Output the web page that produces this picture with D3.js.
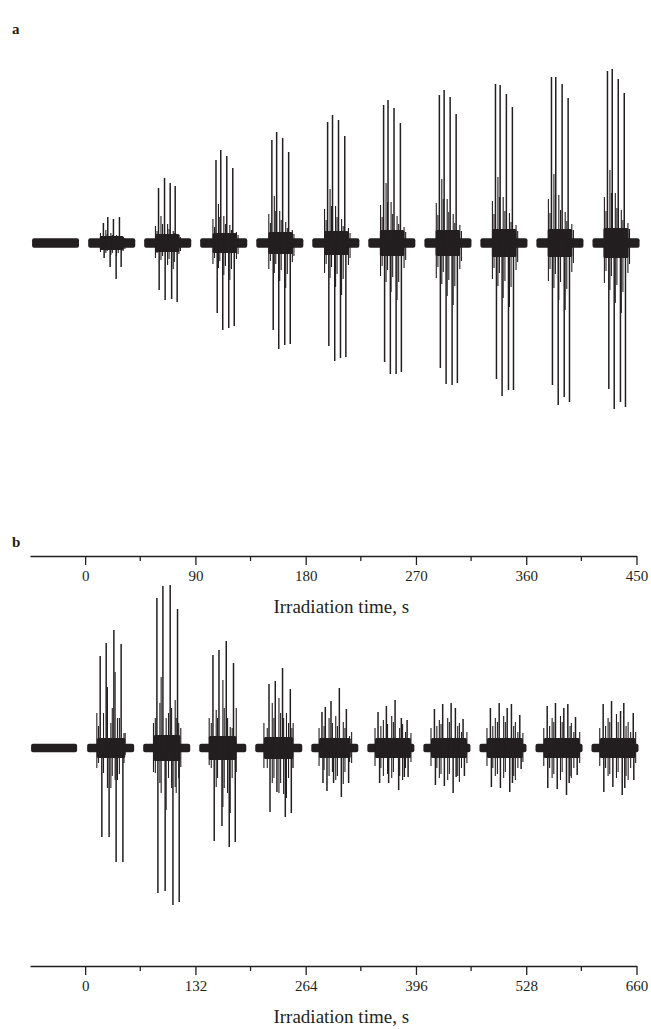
<!DOCTYPE html>
<html><head><meta charset="utf-8">
<script src="https://cdn.jsdelivr.net/npm/d3@7"></script>
<style>body{margin:0;background:#fff}</style>
</head><body>
<svg id="chart" width="651" height="1029"></svg>
<script>
// ---------------- Panel a data (time in s, signal in arbitrary units) ----------------
const aTicks = [0, 90, 180, 270, 360, 450];
const aMinor = [45, 135, 225, 315, 405];
const aSegStart = [-43.3, 2.5, 48.2, 93.9, 139.7, 185.4, 231.1, 276.9, 322.6, 368.3, 414.1];
const aSegEnd   = [-5.0, 40.9, 86.6, 132.3, 178.1, 223.8, 269.5, 315.3, 361.0, 406.7, 452.5];
const aNoise = 0.48;
// main spikes per burst: [time, value]
const aUp = [
  [],
  [[14.9,2.0],[18.5,2.6],[23.1,2.4],[28.0,2.6]],
  [[59.9,5.5],[64.8,6.5],[69.4,6.0],[73.5,5.7]],
  [[106.8,8.3],[110.7,9.3],[115.6,8.7],[120.5,7.5]],
  [[152.4,10.3],[156.3,11.1],[161.2,10.5],[166.1,9.1]],
  [[197.9,12.1],[201.9,12.8],[206.8,12.3],[211.9,10.7]],
  [[243.6,13.8],[247.2,14.3],[252.1,13.5],[257.3,12.0]],
  [[289.1,14.8],[293.0,15.3],[297.9,14.6],[302.8,12.9]],
  [[334.9,15.9],[338.7,15.8],[343.8,14.9],[348.7,13.6]],
  [[380.6,16.6],[384.1,16.6],[389.3,15.9],[394.2,14.5]],
  [[426.3,17.2],[430.2,17.4],[435.1,16.4],[440.0,15.0]]
];
const aDown = [
  [],
  [[15.5,-1.5],[20.4,-2.4],[25.3,-3.6],[29.4,-2.4]],
  [[60.4,-4.7],[65.3,-5.7],[70.6,-5.6],[75.1,-5.9]],
  [[107.8,-7.0],[112.3,-8.7],[117.2,-8.5],[121.7,-8.3]],
  [[153.5,-8.7],[158.0,-10.6],[162.9,-10.2],[167.4,-10.1]],
  [[198.9,-10.3],[203.7,-11.8],[208.4,-11.5],[212.8,-11.4]],
  [[244.4,-11.9],[249.1,-13.1],[253.8,-13.1],[258.1,-12.9]],
  [[289.9,-12.5],[294.6,-14.1],[299.5,-14.2],[303.8,-14.0]],
  [[335.7,-13.6],[340.3,-15.3],[345.5,-14.7],[349.6,-14.7]],
  [[381.4,-14.2],[386.1,-16.2],[391.0,-15.4],[395.3,-15.9]],
  [[427.4,-14.6],[431.8,-16.6],[436.9,-15.9],[441.0,-16.4]]
];
// smaller spikes inside each burst: [time, up, down]
const aInner = [
  [],
  [[12.5,1.0,-0.9],[16.9,1.3,-1.0],[21.0,1.0,-1.2],[25.6,0.8,-1.3],[31.0,0.6,-0.8],
   [13.7,0.7,-0.7],[18.0,0.9,-0.8],[22.2,0.8,-1.0],[27.0,0.7,-1.0],[32.5,0.5,-0.6]],
  [[57.4,1.7,-1.5],[61.9,2.7,-1.7],[67.3,1.9,-2.2],[71.9,1.2,-2.6],[76.5,0.8,-1.1],
   [58.7,1.2,-1.0],[63.2,1.9,-1.3],[68.5,1.4,-1.6],[72.8,1.0,-1.9],[77.8,0.6,-0.8]],
  [[104.3,2.4,-2.1],[108.8,3.9,-2.5],[113.2,2.7,-3.2],[118.1,1.8,-3.7],[123.5,1.1,-1.6],
   [105.6,1.6,-1.5],[109.9,2.6,-1.8],[114.5,1.9,-2.3],[119.4,1.3,-2.6],[124.8,0.8,-1.1]],
  [[149.9,2.9,-2.6],[154.4,4.7,-3.0],[158.8,3.2,-3.8],[163.7,2.1,-4.5],[169.1,1.3,-1.9],
   [151.2,2.0,-1.8],[155.6,3.2,-2.1],[160.0,2.3,-2.7],[165.0,1.5,-3.1],[170.4,0.9,-1.3]],
  [[195.4,3.4,-3.0],[199.9,5.4,-3.5],[204.4,3.7,-4.4],[209.3,2.4,-5.2],[214.9,1.5,-2.2],
   [196.7,2.3,-2.1],[201.1,3.7,-2.4],[205.6,2.6,-3.1],[210.6,1.7,-3.6],[216.2,1.0,-1.5]],
  [[241.1,3.8,-3.3],[245.6,6.0,-3.9],[249.7,4.1,-4.9],[254.6,2.7,-5.7],[260.3,1.6,-2.5],
   [242.4,2.6,-2.3],[246.8,4.1,-2.7],[251.0,2.9,-3.4],[255.9,1.9,-3.9],[261.6,1.1,-1.7]],
  [[286.6,4.0,-3.5],[291.1,6.4,-4.1],[295.5,4.4,-5.3],[300.4,2.9,-6.2],[305.8,1.8,-2.6],
   [287.9,2.8,-2.4],[292.3,4.4,-2.9],[296.8,3.1,-3.7],[301.7,2.0,-4.3],[307.1,1.2,-1.8]],
  [[332.4,4.2,-3.6],[336.9,6.6,-4.3],[341.2,4.6,-5.5],[346.3,3.0,-6.4],[351.7,1.8,-2.7],
   [333.7,2.9,-2.5],[338.1,4.6,-3.0],[342.6,3.2,-3.8],[347.6,2.1,-4.4],[353.0,1.2,-1.9]],
  [[378.1,4.4,-3.8],[382.6,6.9,-4.5],[386.6,4.8,-5.7],[391.8,3.1,-6.7],[397.2,1.9,-2.9],
   [379.4,3.0,-2.6],[383.8,4.8,-3.1],[388.0,3.3,-3.9],[393.1,2.2,-4.6],[398.5,1.3,-2.0]],
  [[423.8,4.6,-4.0],[428.3,7.3,-4.7],[432.7,5.0,-6.0],[437.6,3.3,-7.0],[443.0,2.0,-3.0],
   [425.1,3.2,-2.8],[429.5,5.0,-3.3],[434.0,3.5,-4.2],[438.9,2.3,-4.9],[444.3,1.4,-2.1]]
];
// dense core of each burst: [start, end, half-height]
const aCore = [
  null,
  [12.0, 31.5, 0.7],[57.0, 77.0, 0.9],[104.0, 124.0, 1.0],[149.5, 169.5, 1.1],[195.0, 215.0, 1.2],
  [240.5, 260.5, 1.3],[286.0, 306.0, 1.3],[332.0, 352.0, 1.4],[377.5, 397.5, 1.4],[423.0, 443.5, 1.5]
];

// ---------------- Panel b data ----------------
const bTicks = [0, 132, 264, 396, 528, 660];
const bMinor = [66, 198, 330, 462, 594];
const bSegStart = [-64.7, 2.4, 69.5, 136.6, 203.6, 270.7, 337.8, 404.9, 472.0, 539.1, 606.1];
const bSegEnd   = [-9.6, 58.7, 125.8, 192.9, 259.9, 327.0, 394.1, 461.2, 528.3, 595.4, 662.4];
const bNoise = 0.42;
const bUp = [
  [],
  [[18.0,9.2],[25.2,10.5],[34.4,11.8],[43.1,10.4]],
  [[85.9,15.0],[93.1,16.2],[101.8,16.3],[110.6,13.9]],
  [[153.0,9.3],[160.2,9.8],[168.9,10.7],[177.6,8.5]],
  [[220.1,6.4],[227.6,6.7],[236.3,8.0],[245.6,5.9]],
  [[283.5,3.6],[287.5,4.1],[294.3,4.7],[304.3,6.0],[312.7,3.9]],
  [[350.6,3.6],[360.6,4.2],[371.0,4.8],[378.5,3.0],[385.4,2.8]],
  [[418.1,3.9],[428.0,4.4],[438.1,4.5],[443.2,4.0],[452.4,2.9]],
  [[485.1,4.0],[495.6,4.5],[505.2,4.0],[510.3,4.4],[520.3,3.3]],
  [[553.1,4.2],[563.0,4.5],[573.0,4.0],[577.8,4.4],[587.0,3.1]],
  [[620.1,4.4],[630.1,4.7],[640.9,3.7],[644.8,4.5],[656.1,3.5]]
];
const bDown = [
  [],
  [[20.0,-8.9],[28.7,-8.9],[37.1,-11.4],[45.2,-11.4]],
  [[87.1,-14.5],[95.8,-14.3],[105.1,-15.7],[112.6,-15.4]],
  [[154.5,-9.3],[163.8,-7.8],[172.5,-9.9],[179.7,-9.4]],
  [[221.3,-6.4],[229.6,-4.4],[239.6,-6.9],[246.8,-6.5]],
  [[284.7,-3.5],[289.5,-4.3],[297.4,-3.5],[306.7,-4.9],[315.4,-3.5]],
  [[352.5,-3.5],[363.3,-3.5],[375.3,-4.2],[382.1,-2.9],[386.6,-2.9]],
  [[419.3,-3.7],[430.0,-3.8],[440.5,-4.5],[444.1,-2.9],[454.0,-2.8]],
  [[486.3,-3.9],[497.1,-4.0],[508.3,-4.4],[511.5,-3.5],[521.9,-2.1]],
  [[553.8,-4.0],[565.1,-4.1],[576.2,-4.7],[579.4,-3.5],[589.0,-2.7]],
  [[620.9,-4.4],[631.7,-3.9],[642.9,-4.7],[646.0,-4.0],[656.8,-3.2]]
];
const bInner = [
  [],
  [[14.0,3.5,-2.0],[26.7,6.1,-4.0],[30.8,2.5,-4.0],[35.9,7.6,-3.2],[38.7,3.0,-3.2],[47.9,1.5,-0.7],
   [16.0,2.2,-1.5],[22.0,3.5,-2.5],[32.5,4.0,-2.8],[41.0,3.0,-2.6],[46.5,1.5,-1.5]],
  [[81.8,2.5,-2.4],[91.0,7.1,-4.5],[97.0,3.0,-6.2],[99.8,3.5,-3.0],[107.8,4.8,-3.9],[114.5,2.0,-1.9],
   [84.0,3.0,-2.5],[89.5,4.5,-3.5],[103.5,4.0,-4.0],[109.0,3.0,-4.5],[112.0,2.5,-3.0]],
  [[148.5,3.0,-1.7],[156.9,3.8,-3.9],[164.9,6.8,-5.9],[173.7,2.1,-6.5],[180.9,4.0,-2.4],
   [151.0,2.5,-2.0],[158.5,3.0,-3.0],[166.5,4.0,-4.0],[170.5,3.0,-4.5],[176.0,2.0,-3.0]],
  [[214.0,2.5,-2.0],[224.0,4.5,-3.5],[232.0,5.0,-4.5],[237.6,3.0,-4.6],[241.0,3.5,-5.0],[249.0,2.5,-2.0],
   [218.0,2.0,-2.0],[226.0,3.0,-3.0],[234.0,3.5,-3.5],[243.5,2.5,-3.0],[247.5,2.0,-2.0]],
  [[280.0,2.0,-1.8],[292.0,3.0,-2.8],[300.0,3.2,-3.2],[309.0,2.6,-3.6],[319.0,1.6,-1.5],
   [286.0,2.2,-2.2],[296.0,2.5,-2.4],[302.0,2.2,-2.8],[311.0,2.0,-2.4],[316.5,1.2,-1.4]],
  [[347.0,2.0,-1.8],[357.0,2.8,-2.8],[367.0,3.2,-3.0],[380.0,2.4,-3.2],[390.0,1.5,-1.4],
   [354.0,2.2,-2.0],[362.0,2.4,-2.6],[369.0,2.6,-2.4],[376.5,2.0,-2.8],[383.5,1.6,-2.0]],
  [[414.0,2.0,-1.8],[424.0,2.8,-3.0],[434.0,3.0,-3.2],[448.0,2.5,-3.4],[457.0,1.6,-1.5],
   [421.0,2.2,-2.0],[426.0,2.4,-2.6],[436.0,2.6,-2.6],[446.0,2.2,-2.8],[450.5,1.6,-2.0]],
  [[481.0,2.0,-1.8],[491.0,3.0,-2.8],[501.0,3.2,-3.0],[515.0,2.6,-3.2],[524.0,1.5,-1.4],
   [488.0,2.2,-2.0],[493.5,2.6,-2.6],[503.0,2.6,-2.4],[513.0,2.2,-2.8],[518.0,1.6,-2.0]],
  [[549.0,2.0,-1.8],[559.0,3.0,-3.0],[569.0,3.2,-3.2],[582.0,2.5,-3.0],[592.0,1.6,-1.5],
   [556.0,2.2,-2.0],[561.0,2.6,-2.6],[571.0,2.6,-2.4],[580.5,2.2,-2.8],[585.0,1.6,-2.0]],
  [[616.0,2.0,-1.8],[626.0,3.0,-2.8],[636.0,3.4,-3.0],[650.0,2.6,-3.2],[659.0,1.6,-1.5],
   [623.0,2.2,-2.0],[628.0,2.6,-2.6],[638.0,2.6,-2.4],[647.5,2.2,-2.8],[653.0,1.6,-2.0]]
];
const bCore = [
  null,
  [14.0, 48.0, 1.0],[82.0, 114.0, 1.3],[148.0, 181.0, 1.2],[214.0, 249.0, 1.1],[280.0, 318.0, 1.0],
  [347.0, 390.0, 1.0],[414.0, 457.0, 1.0],[481.0, 524.0, 1.0],[549.0, 592.0, 1.0],[616.0, 659.0, 1.0]
];

const INK = "#231f20";
const SERIF = "'Liberation Serif', 'Times New Roman', serif";
const svg = d3.select("#chart");

function drawPanel(p) {
  const x = d3.scaleLinear().domain(p.xDomain).range([30, 636.5]);
  const y = d3.scaleLinear().domain(p.yDomain).range([p.axisY, p.topY]);
  const g = svg.append("g");

  // baseline noise bands
  g.selectAll("rect.band").data(p.segStart).join("rect")
    .attr("x", d => x(d))
    .attr("width", (d, i) => x(p.segEnd[i]) - x(d))
    .attr("y", y(p.noise))
    .attr("height", y(-p.noise) - y(p.noise))
    .attr("rx", 2)
    .attr("fill", INK);

  // denser core of each burst
  g.selectAll("rect.core").data(p.core.filter(c => c)).join("rect")
    .attr("x", d => x(d[0]))
    .attr("width", d => x(d[1]) - x(d[0]))
    .attr("y", d => y(d[2]))
    .attr("height", d => y(-d[2]) - y(d[2]))
    .attr("rx", 1.5)
    .attr("fill", INK);

  // inner spikes
  g.selectAll("line.inner").data(p.inner.flat()).join("line")
    .attr("x1", d => x(d[0])).attr("x2", d => x(d[0]))
    .attr("y1", d => y(d[1])).attr("y2", d => y(d[2]))
    .attr("stroke", INK).attr("stroke-width", 1.1);

  // main spikes
  g.selectAll("line.main").data(p.up.flat().concat(p.down.flat())).join("line")
    .attr("x1", d => x(d[0])).attr("x2", d => x(d[0]))
    .attr("y1", y(0)).attr("y2", d => y(d[1]))
    .attr("stroke", INK).attr("stroke-width", 1.5);

  // axis
  const ax = g.append("g").attr("transform", `translate(0,${p.axisY})`)
    .call(d3.axisBottom(x).tickValues(p.ticks).tickSize(9).tickSizeOuter(0).tickPadding(5).tickFormat(d3.format("d")));
  ax.select(".domain").attr("stroke", INK).attr("stroke-width", 1.3);
  ax.selectAll(".tick line").attr("stroke", INK).attr("stroke-width", 1.3);
  ax.selectAll(".tick text").attr("fill", INK)
    .style("font-family", SERIF).style("font-size", "15px");
  g.append("g").selectAll("line").data(p.minor).join("line")
    .attr("x1", d => x(d)).attr("x2", d => x(d))
    .attr("y1", p.axisY).attr("y2", p.axisY + 5)
    .attr("stroke", INK).attr("stroke-width", 1.3);

  g.append("text")
    .attr("x", (30 + 636.5) / 2 + 8)
    .attr("y", p.axisY + 57)
    .attr("text-anchor", "middle")
    .attr("fill", INK)
    .style("font-family", SERIF).style("font-size", "19px")
    .text("Irradiation time, s");

  g.append("text")
    .attr("x", 12).attr("y", p.labelY)
    .attr("fill", INK)
    .style("font-family", SERIF)
    .style("font-size", "15px").style("font-weight", "bold")
    .text(p.label);
}

drawPanel({
  label: "a", labelY: 34,
  xDomain: [-45, 450], yDomain: [-31.3, 21.3], axisY: 556, topY: 30,
  ticks: aTicks, minor: aMinor, segStart: aSegStart, segEnd: aSegEnd, noise: aNoise,
  up: aUp, down: aDown, inner: aInner, core: aCore
});
drawPanel({
  label: "b", labelY: 547,
  xDomain: [-66, 660], yDomain: [-21.8, 18.8], axisY: 966, topY: 560,
  ticks: bTicks, minor: bMinor, segStart: bSegStart, segEnd: bSegEnd, noise: bNoise,
  up: bUp, down: bDown, inner: bInner, core: bCore
});
</script>
</body></html>
